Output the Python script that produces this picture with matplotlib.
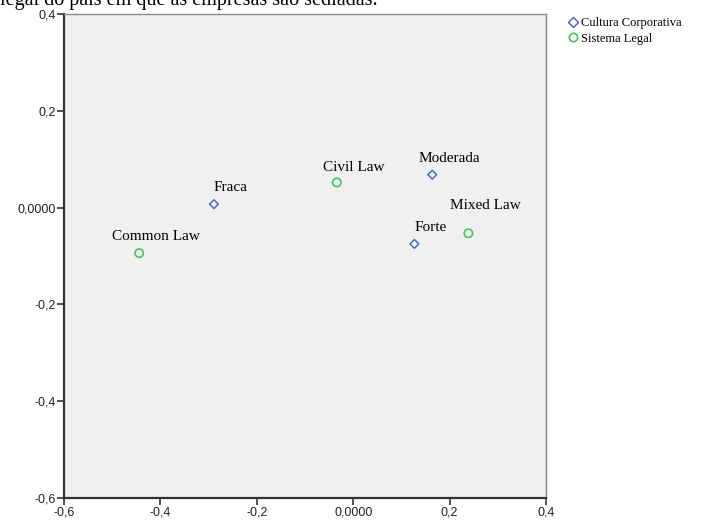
import numpy as np
import matplotlib.pyplot as plt
from matplotlib.ticker import FuncFormatter
from matplotlib.lines import Line2D

# Row points (Cultura Corporativa) and column points (Sistema Legal)
cultura_labels = ["Fraca", "Moderada", "Forte"]
cultura_x = [-0.289, 0.164, 0.127]
cultura_y = [0.007, 0.068, -0.075]

sistema_labels = ["Common Law", "Civil Law", "Mixed Law"]
sistema_x = [-0.444, -0.034, 0.239]
sistema_y = [-0.094, 0.052, -0.053]

# label offsets in points (dx, dy)
cultura_off = [(12, 12), (12, 12), (12, 12)]
sistema_off = [(12, 12), (12, 11), (12, 20)]

blue = "#3f5fbf"
green = "#4cc25a"

fig = plt.figure(figsize=(7.21, 5.22), dpi=100)
ax = fig.add_axes([64/721, 24/522, 482/721, 484/522])
ax.set_facecolor("#f0f0f0")

ax.scatter(cultura_x, cultura_y, marker="D", s=20, facecolors="none",
           edgecolors=blue, linewidths=1.0, zorder=3)
ax.scatter(sistema_x, sistema_y, marker="o", s=36, facecolors="none",
           edgecolors=green, linewidths=1.2, zorder=3)

serif = ["Liberation Serif", "DejaVu Serif"]
for lab, x, y, off in zip(cultura_labels, cultura_x, cultura_y, cultura_off):
    ax.annotate(lab, (x, y), xytext=off, textcoords="offset points",
                ha="center", va="center", fontsize=11, family=serif)
for lab, x, y, off in zip(sistema_labels, sistema_x, sistema_y, sistema_off):
    ax.annotate(lab, (x, y), xytext=off, textcoords="offset points",
                ha="center", va="center", fontsize=11, family=serif)

ax.set_xlim(-0.6, 0.4)
ax.set_ylim(-0.6, 0.4)
ticks = [-0.6, -0.4, -0.2, 0.0, 0.2, 0.4]
ax.set_xticks(ticks)
ax.set_yticks(ticks)


def fmt(v, pos):
    if abs(v) < 1e-9:
        return "0,0000"
    return f"{v:.1f}".replace(".", ",")


ax.xaxis.set_major_formatter(FuncFormatter(fmt))
ax.yaxis.set_major_formatter(FuncFormatter(fmt))
ax.tick_params(direction="out", length=5, width=1.2, color="#333333",
               labelsize=9, labelcolor="#222222", pad=1)
for lab in ax.get_xticklabels() + ax.get_yticklabels():
    lab.set_family("Liberation Sans")

for side in ["left", "bottom"]:
    ax.spines[side].set_color("#333333")
    ax.spines[side].set_linewidth(1.6)
for side in ["top", "right"]:
    ax.spines[side].set_color("#888888")
    ax.spines[side].set_linewidth(1.0)

handles = [
    Line2D([], [], marker="D", linestyle="none", markersize=5,
           markerfacecolor="none", markeredgecolor=blue, markeredgewidth=1.0),
    Line2D([], [], marker="o", linestyle="none", markersize=6,
           markerfacecolor="none", markeredgecolor=green, markeredgewidth=1.2),
]
fig.legend(handles, ["Cultura Corporativa", "Sistema Legal"],
           loc="upper left", bbox_to_anchor=(560/721, 1 - 12/522),
           frameon=False, prop={"family": serif, "size": 9},
           handletextpad=0.1, handlelength=1.2, labelspacing=0.3,
           borderaxespad=0)

# caption line from the page, partly clipped at the top edge
fig.text(0.0, 1 - 5/522, "legal do país em que as empresas são sediadas.",
         ha="left", va="baseline", fontsize=14.5, family=serif)

fig.savefig("out.png", dpi=100)
